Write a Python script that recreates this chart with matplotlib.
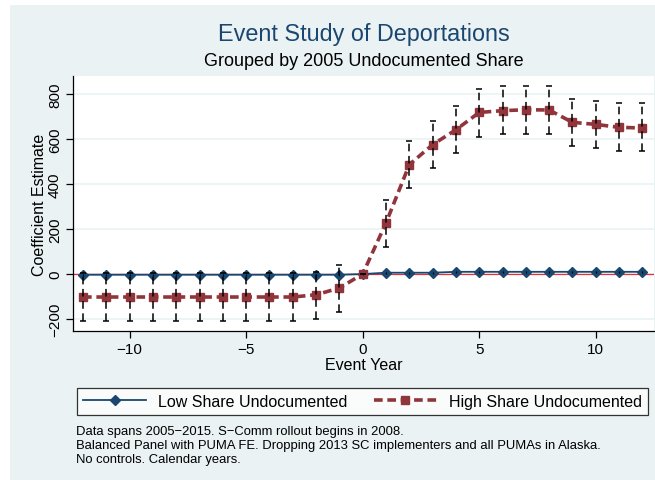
import numpy as np
import matplotlib
matplotlib.use('Agg')
import matplotlib.pyplot as plt
from matplotlib.patches import Rectangle

plt.rcParams['font.family'] = ['Liberation Sans', 'DejaVu Sans']

# event years
years = list(range(-12, 13))

# low share undocumented: coefficients and CI
low_coef = [-3, -3, -3, -3, -3, -3, -3, -3, -3, -3, -3, -3, 0,
            6, 6, 6, 10, 10, 10, 10, 10, 10, 10, 10, 10]
low_lo = [c - 4 for c in low_coef]
low_hi = [c + 4 for c in low_coef]

# high share undocumented: coefficients and CI
high_coef = [-102, -102, -102, -102, -102, -102, -102, -102, -102, -102, -92, -62, 0,
             227, 486, 575, 641, 718, 726, 730, 729, 674, 665, 652, 649]
high_lo = [-209, -209, -209, -209, -209, -209, -209, -209, -209, -209, -200, -169, 0,
           121, 382, 470, 538, 610, 622, 622, 622, 567, 560, 548, 547]
high_hi = [5, 5, 5, 5, 5, 5, 5, 5, 5, 5, 10, 41, 0,
           329, 592, 681, 748, 822, 834, 837, 834, 778, 770, 758, 758]

navy = '#1a476f'
maroon = '#90353b'
bg = '#eaf2f3'

fig = plt.figure(figsize=(6.55, 4.81), dpi=100)
fig.patch.set_facecolor('white')
fig.patches.append(Rectangle((10 / 655, 0.0), 1 - 10 / 655, 1 - 6 / 481,
                             transform=fig.transFigure, facecolor=bg,
                             edgecolor='none', zorder=-10))

ax = fig.add_axes([73 / 655, 1 - 332 / 481, (654 - 73) / 655, (332 - 77) / 481])
ax.set_facecolor('white')

ax.set_xlim(-12.43, 12.5)
ax.set_ylim(-253, 880)
ax.set_yticks([-200, 0, 200, 400, 600, 800])
ax.set_xticks([-10, -5, 0, 5, 10])
ax.set_xticklabels(['\u221210', '\u22125', '0', '5', '10'])
ax.set_yticklabels(['\u2212200', '0', '200', '400', '600', '800'],
                   rotation=90, va='center')
ax.grid(axis='y', color=bg, lw=1.2, zorder=0)
ax.set_axisbelow(True)
for s in ['top', 'right']:
    ax.spines[s].set_visible(False)
ax.spines['left'].set_linewidth(0.9)
ax.spines['bottom'].set_linewidth(0.9)
ax.tick_params(labelsize=11, length=5, width=0.9, pad=3)

ax.axhline(0, color='#e0303a', lw=0.9, zorder=1)

ax.plot(years, low_coef, color=navy, lw=1.3, marker='D', ms=5.5,
        mfc=navy, mec=navy, zorder=3, label='Low Share Undocumented')
ax.plot(years, high_coef, color=maroon, lw=2.6, ls=(0, (2.4, 1.3)), marker='s',
        ms=6, mfc=maroon, mec=maroon, zorder=3, label='High Share Undocumented')

# confidence intervals
ax.vlines(years, low_lo, low_hi, color='black', lw=0.8, zorder=4)
ax.vlines(years, high_lo, high_hi, color='black', lw=1.1,
          linestyles=(0, (5, 3)), zorder=4)
ax.scatter(years, high_lo, marker='_', s=25, color='black', lw=1.1, zorder=4)
ax.scatter(years, high_hi, marker='_', s=25, color='black', lw=1.1, zorder=4)

ax.set_xlabel('Event Year', fontsize=11.5, labelpad=1)
ax.set_ylabel('Coefficient Estimate', fontsize=11.5, labelpad=1)

fig.text(363.5 / 655, 1 - 35 / 481, 'Event Study of Deportations', color=navy,
         fontsize=16.8, ha='center', va='center')
fig.text(363.5 / 655, 1 - 62 / 481, 'Grouped by 2005 Undocumented Share',
         color='black', fontsize=13, ha='center', va='center')

leg = fig.legend(loc='center', bbox_to_anchor=(362.5 / 655, 1 - 402.5 / 481),
                 ncol=2, fontsize=11.5, frameon=True, fancybox=False,
                 edgecolor='black', handlelength=3.9, handletextpad=0.75,
                 columnspacing=1.7, borderpad=0.4)
leg.get_frame().set_linewidth(0.9)

notes = ('Data spans 2005\u22122015. S\u2212Comm rollout begins in 2008.\n'
         'Balanced Panel with PUMA FE. Dropping 2013 SC implementers and all PUMAs in Alaska.\n'
         'No controls. Calendar years.')
fig.text(76 / 655, 1 - 426 / 481, notes, fontsize=9.4, ha='left', va='top',
         linespacing=1.2)

fig.savefig('out.png', dpi=100, facecolor=fig.get_facecolor())
